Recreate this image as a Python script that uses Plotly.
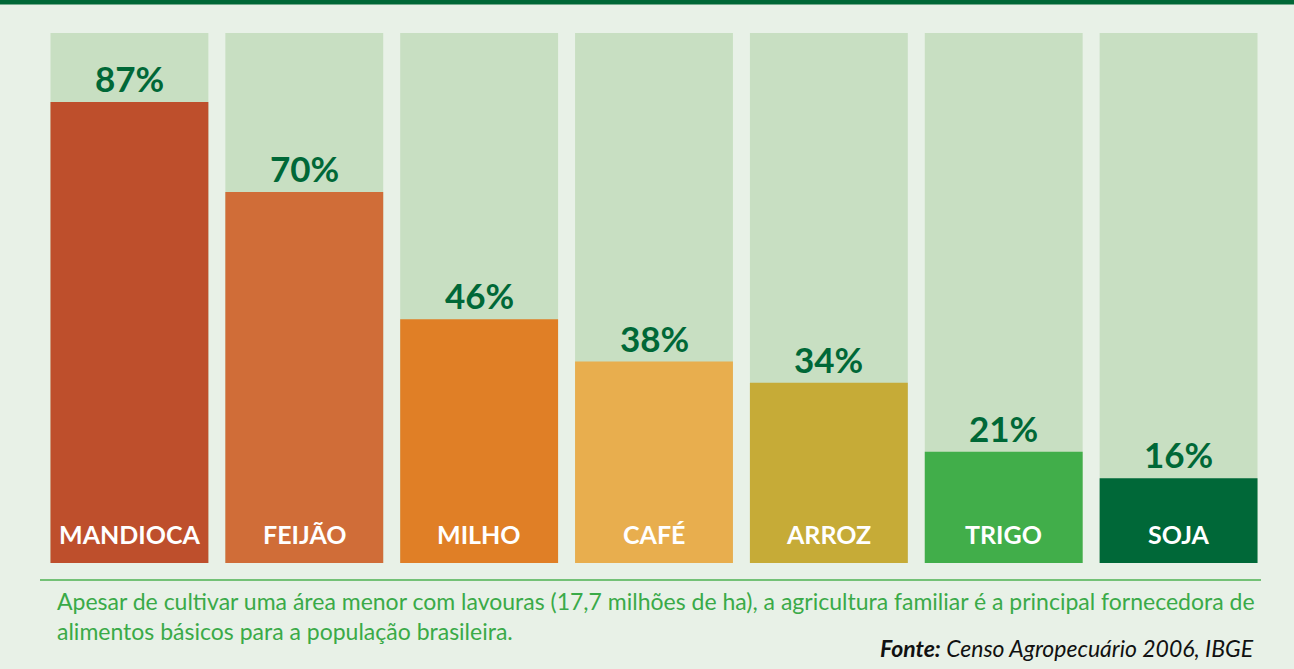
import plotly.graph_objects as go

categories = ["MANDIOCA", "FEIJÃO", "MILHO", "CAFÉ", "ARROZ", "TRIGO", "SOJA"]
values = [87, 70, 46, 38, 34, 21, 16]
full = [100, 100, 100, 100, 100, 100, 100]
colors = ["#be4f2c", "#d06d38", "#e07f26", "#e8ae4e", "#c6ab37", "#41ae4a", "#006838"]

caption = ("Apesar de cultivar uma área menor com lavouras (17,7 milhões de ha), a agricultura familiar é a principal fornecedora de<br>"
           "alimentos básicos para a população brasileira.")
source = "<b><i>Fonte:</i></b><i> Censo Agropecuário 2006, IBGE</i>"

W, H = 1294, 669
L, R, T, B = 42, 28, 33, 106
PW, PH = W - L - R, H - T - B


def px_x(p):
    return (p - L) / PW


def px_y(p):
    return (H - B - p) / PH


fig = go.Figure()
fig.add_trace(go.Bar(x=categories, y=full, marker=dict(color="#c8dfc2", line=dict(width=0)),
                     hoverinfo="skip", showlegend=False))
fig.add_trace(go.Bar(x=categories, y=values, marker=dict(color=colors, line=dict(width=0)),
                     showlegend=False))

for c, v in zip(categories, values):
    fig.add_annotation(x=c, y=v, text=f"<b>{v}%</b>", showarrow=False, yanchor="bottom",
                       yshift=1, font=dict(family="Lato", size=35, color="#006837"))
    fig.add_annotation(x=c, y=0, text=f"<b>{c}</b>", showarrow=False, yanchor="middle",
                       yshift=29, font=dict(family="Lato", size=25, color="white"))

fig.add_annotation(xref="paper", yref="paper", x=px_x(55), y=px_y(585),
                   text=caption, showarrow=False, xanchor="left", yanchor="top", align="left",
                   font=dict(family="Lato", size=23, color="#3aaa48"))
fig.add_annotation(xref="paper", yref="paper", x=px_x(1256), y=px_y(648),
                   text=source, showarrow=False, xanchor="right", yanchor="middle",
                   font=dict(family="Lato", size=23, color="#111111"))

fig.update_layout(
    width=W, height=H,
    margin=dict(l=L, r=R, t=T, b=B),
    paper_bgcolor="#e8f1e7", plot_bgcolor="#e8f1e7",
    barmode="overlay", bargap=17 / 175,
    xaxis=dict(visible=False, range=[-0.5, 6.5]),
    yaxis=dict(visible=False, range=[0, 100]),
    shapes=[
        dict(type="rect", xref="paper", yref="paper", x0=px_x(-5), x1=px_x(W + 5),
             y0=px_y(4.5), y1=px_y(-2),
             fillcolor="#006837", line=dict(width=0), layer="above"),
        dict(type="line", xref="paper", yref="paper", x0=px_x(40), x1=px_x(1261),
             y0=px_y(580), y1=px_y(580),
             line=dict(color="#4cb050", width=1.5)),
    ],
)

fig.write_html("out.html", config={"displayModeBar": False},
               post_script="document.body.style.margin='0';document.body.style.overflow='hidden';")
